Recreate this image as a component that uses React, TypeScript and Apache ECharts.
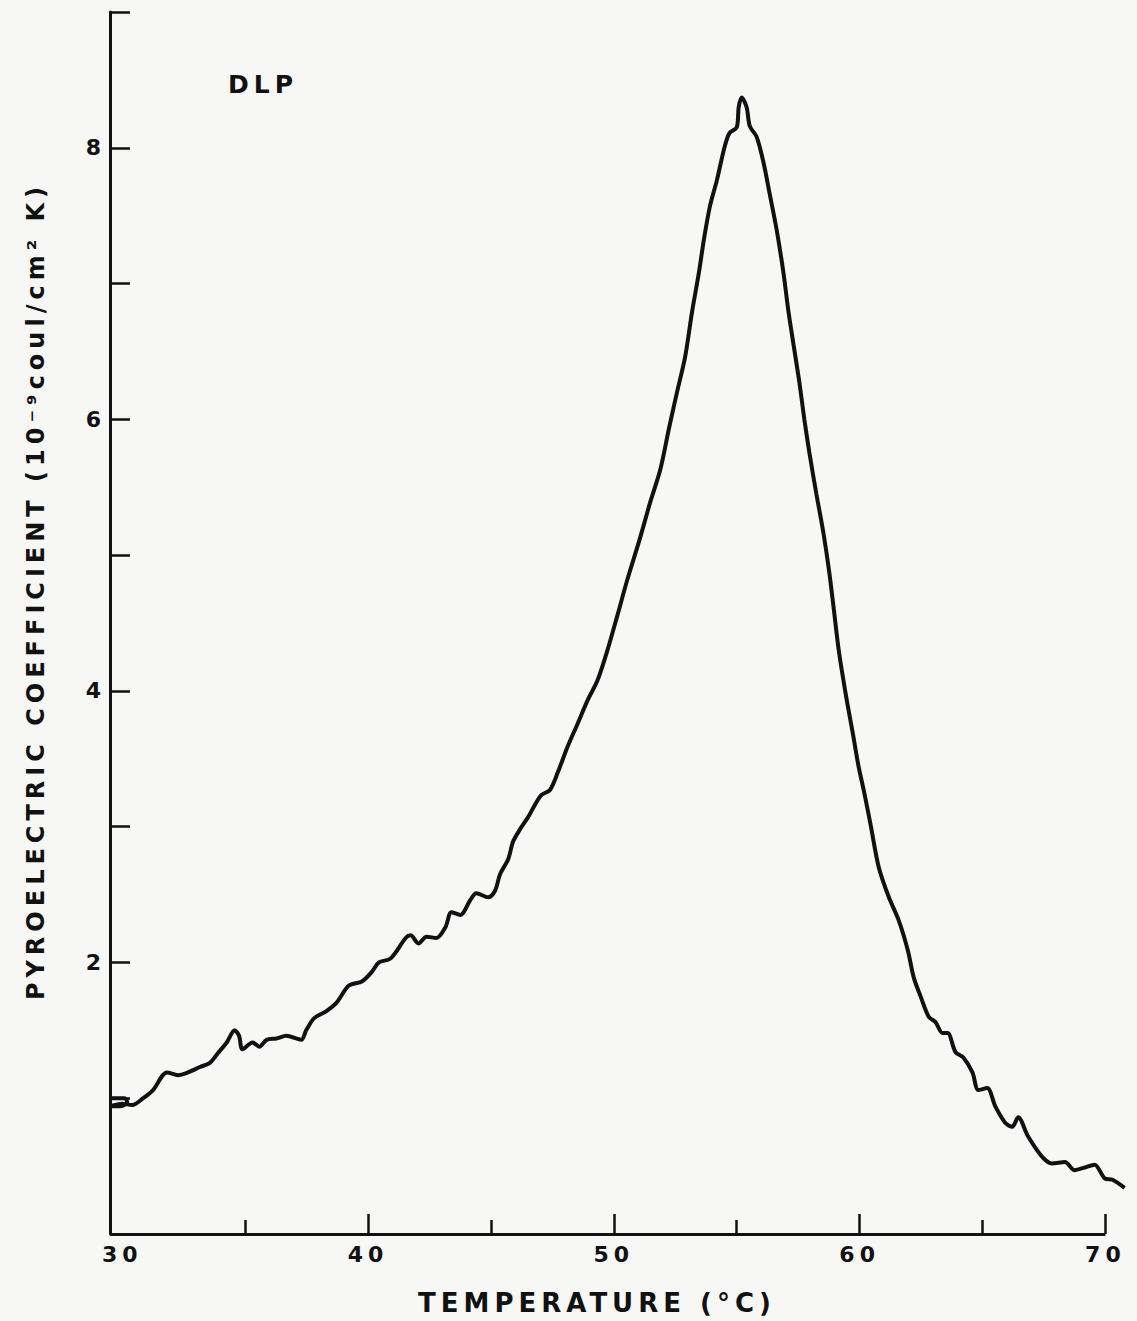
import React, { useEffect, useRef } from "react";
import * as echarts from "echarts";

// Temperature (°C) along the recorded trace
const temperatures = [
  29.5, 30.1, 30.2, 29.9, 29.5, 30.0, 30.4, 30.85, 31.25, 31.82,
  32.27, 32.67, 33.16, 33.56, 33.88, 34.25, 34.57, 34.75, 34.89, 35.3,
  35.58, 35.87, 36.27, 36.67, 37.28, 37.48, 37.81, 38.29, 38.7, 39.22,
  39.75, 40.15, 40.44, 40.92, 41.53, 41.73, 42.05, 42.38, 42.78, 43.15,
  43.39, 43.75, 44.16, 44.4, 44.89, 45.17, 45.37, 45.7, 45.9, 46.18,
  46.51, 47.03, 47.4, 47.72, 48.12, 48.53, 48.93, 49.34, 49.74, 50.15,
  50.55, 51.04, 51.48, 51.89, 52.25, 52.57, 52.9, 53.18, 53.46, 53.66,
  53.91, 54.19, 54.51, 54.71, 55.0, 55.08, 55.2, 55.4, 55.53, 55.81,
  56.09, 56.33, 56.62, 56.9, 57.1, 57.31, 57.55, 57.75, 57.95,
  58.24, 58.52, 58.76, 58.95, 59.15, 59.45, 59.73, 59.95, 60.2, 60.46,
  60.78, 61.19, 61.59, 61.96, 62.2, 62.48, 62.81, 63.09, 63.37, 63.58,
  63.9, 64.22, 64.59, 64.83, 65.19, 65.52, 65.92, 66.21, 66.45, 66.85,
  67.42, 67.82, 68.35, 68.75, 69.16, 69.56, 69.97, 70.29, 70.78,
];

// Pyroelectric coefficient (10^-9 coul/cm^2 K)
const coefficients = [
  1.0, 1.0, 0.97, 0.94, 0.94, 0.96, 0.95, 1.0, 1.06, 1.19,
  1.17, 1.19, 1.23, 1.26, 1.33, 1.41, 1.5, 1.46, 1.36, 1.41,
  1.38, 1.43, 1.44, 1.46, 1.43, 1.5, 1.59, 1.64, 1.7, 1.83,
  1.86, 1.93, 2.0, 2.03, 2.18, 2.2, 2.14, 2.19, 2.18, 2.26,
  2.37, 2.35, 2.46, 2.51, 2.48, 2.53, 2.65, 2.76, 2.89, 2.98,
  3.07, 3.23, 3.27, 3.4, 3.59, 3.76, 3.93, 4.08, 4.3, 4.56,
  4.82, 5.11, 5.39, 5.63, 5.94, 6.2, 6.46, 6.79, 7.08, 7.32,
  7.57, 7.76, 8.01, 8.11, 8.15, 8.3, 8.37, 8.3, 8.16, 8.08,
  7.89, 7.67, 7.4, 7.08, 6.8, 6.55, 6.27, 6.0, 5.76,
  5.45, 5.17, 4.88, 4.6, 4.3, 3.96, 3.68, 3.45, 3.24, 3.0,
  2.7, 2.48, 2.31, 2.09, 1.89, 1.75, 1.6, 1.56, 1.48, 1.48,
  1.34, 1.3, 1.19, 1.06, 1.075, 0.94, 0.82, 0.79, 0.86, 0.72,
  0.57, 0.52, 0.53, 0.47, 0.49, 0.51, 0.41, 0.4, 0.34,
];

const xLabelValues = [30, 40, 50, 60, 70];
const xMajorTicks = [40, 50, 60, 70];
const xMinorTicks = [35, 45, 55, 65];
const xAxisSpan = [29.5, 70];
const yLabelValues = [2, 4, 6, 8];

export default function App() {
  const ref = useRef<HTMLDivElement>(null);

  useEffect(() => {
    const chart = echarts.init(ref.current!, null, { renderer: "svg" });
    const font = "DejaVu Sans";
    const ink = "#111";
    const data = temperatures.map((t, i) => [t, coefficients[i]]);

    chart.setOption({
      animation: false,
      backgroundColor: "#f7f7f5",
      grid: { left: 110, right: 7, top: 12, bottom: 87 },
      xAxis: [
        {
          type: "value",
          min: 29.5,
          max: 71,
          position: "bottom",
          axisLine: { show: false },
          splitLine: { show: false },
          axisTick: {
            inside: true,
            length: 20,
            customValues: xMajorTicks,
            lineStyle: { color: ink, width: 2.5 },
          },
          axisLabel: {
            customValues: xLabelValues,
            margin: 9,
            fontSize: 22,
            fontWeight: "bold",
            fontFamily: font,
            color: ink,
          },
          name: "TEMPERATURE (°C)",
          nameLocation: "middle",
          nameGap: 56,
          nameTextStyle: {
            fontSize: 26,
            fontWeight: "bold",
            fontFamily: font,
            color: ink,
            padding: [0, 46, 0, 0],
          },
        },
        {
          type: "value",
          min: 29.5,
          max: 71,
          position: "bottom",
          offset: 0,
          axisLine: { show: false },
          splitLine: { show: false },
          axisLabel: { show: false },
          axisTick: {
            inside: true,
            length: 14,
            customValues: xMinorTicks,
            lineStyle: { color: ink, width: 2.5 },
          },
        },
      ],
      yAxis: {
        type: "value",
        min: 0,
        max: 9,
        interval: 1,
        axisLine: { show: true, lineStyle: { color: ink, width: 3 } },
        splitLine: { show: false },
        axisTick: {
          show: true,
          inside: true,
          length: 20,
          lineStyle: { color: ink, width: 2.5 },
        },
        axisLabel: {
          customValues: yLabelValues,
          margin: 4,
          fontSize: 22,
          fontWeight: "bold",
          fontFamily: font,
          color: ink,
        },
        name: "PYROELECTRIC COEFFICIENT (10⁻⁹coul/cm² K)",
        nameLocation: "middle",
        nameGap: 62,
        nameTextStyle: {
          fontSize: 24,
          fontWeight: "bold",
          fontFamily: font,
          color: ink,
          padding: [0, 0, 0, 64],
        },
      },
      graphic: [
        {
          type: "text",
          left: 228,
          top: 72,
          style: {
            text: "DLP",
            fontSize: 25,
            fontWeight: "bold",
            fontFamily: font,
            fill: ink,
          },
        },
      ],
      series: [
        {
          type: "line",
          data,
          showSymbol: false,
          smooth: 0.3,
          lineStyle: { color: ink, width: 4 },
          markLine: {
            silent: true,
            symbol: "none",
            label: { show: false },
            lineStyle: { color: ink, width: 3, type: "solid" },
            data: [
              [
                { coord: [xAxisSpan[0], 0] },
                { coord: [xAxisSpan[1], 0] },
              ],
            ],
          },
        },
      ],
    });

    return () => chart.dispose();
  }, []);

  return (
    <div
      ref={ref}
      style={{
        position: "fixed",
        left: 0,
        top: 0,
        width: 1137,
        height: 1321,
        letterSpacing: "5px",
      }}
    />
  );
}
